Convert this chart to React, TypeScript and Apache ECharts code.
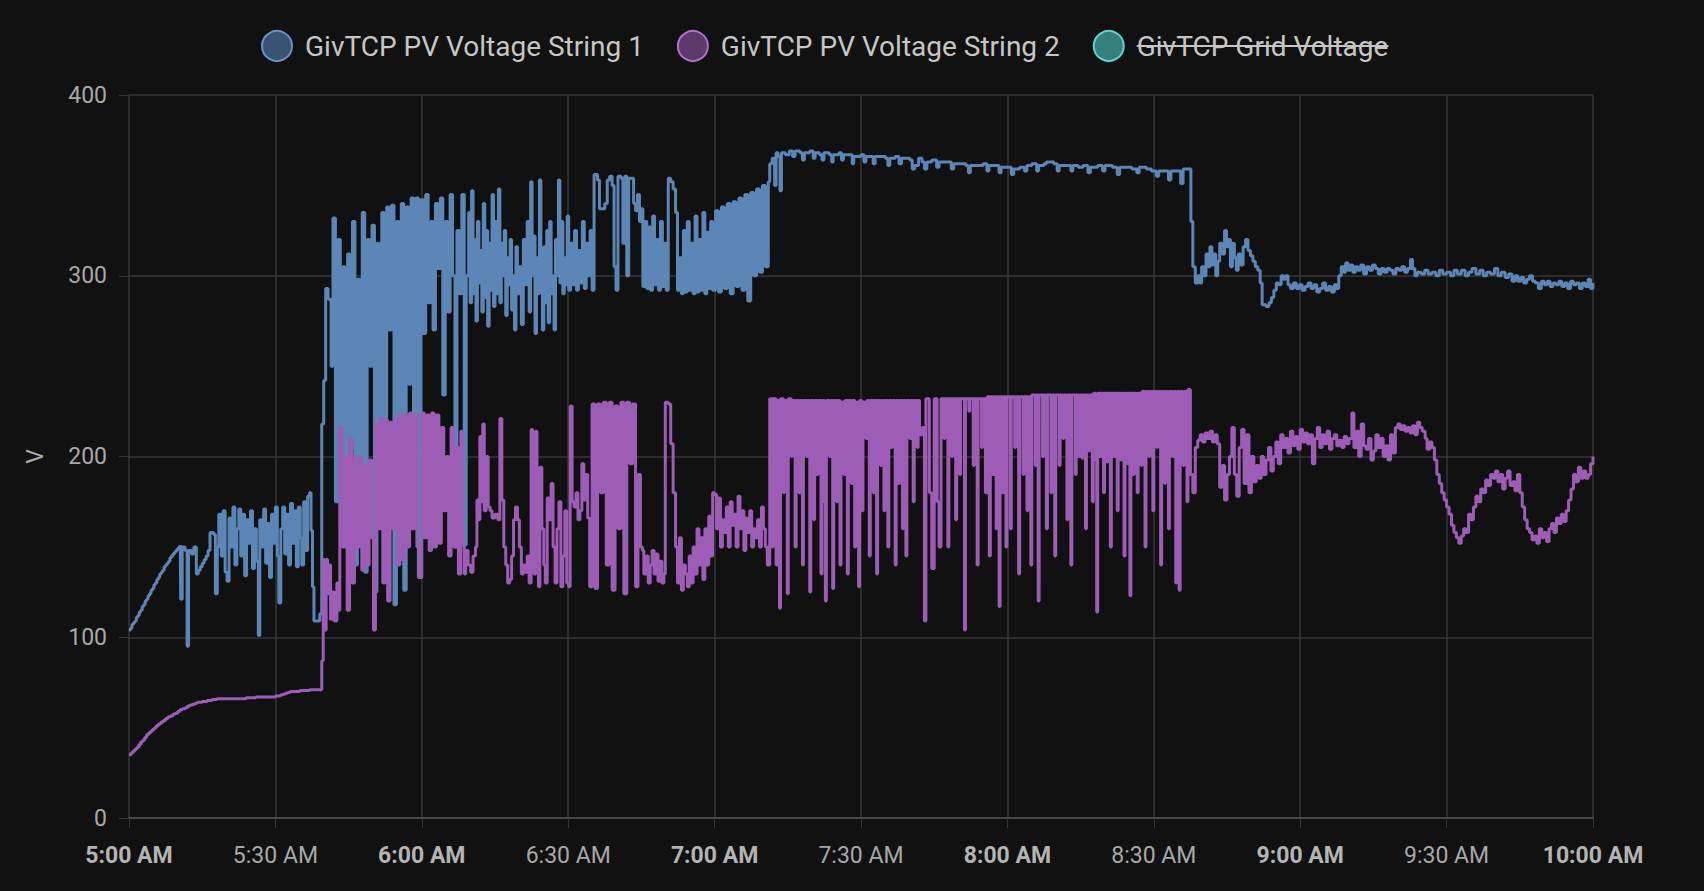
import React, { useEffect, useRef } from "react";
import * as echarts from "echarts";

// ---- data (minutes after 5:00 AM, volts) ----
const X_TICK_LABELS = ["5:00 AM", "5:30 AM", "6:00 AM", "6:30 AM", "7:00 AM", "7:30 AM", "8:00 AM", "8:30 AM", "9:00 AM", "9:30 AM", "10:00 AM"];
const Y_TICKS = [0, 100, 200, 300, 400];
const SERIES_NAMES = ["GivTCP PV Voltage String 1", "GivTCP PV Voltage String 2", "GivTCP Grid Voltage"];

const STRING1: [number, number][] = [
[0,104],[0.3,105],[0.6,107],[0.9,108],[1.2,109],[1.5,111],[1.8,112],[2.1,114],[2.4,115],[2.7,117],[3,118],[3.3,120],[3.6,121],[3.9,123],[4.2,124],[4.5,126],[4.8,127],[5.1,129],[5.4,130],[5.7,132],[6,133],[6.3,135],[6.6,136],[6.9,137],[7.2,139],[7.5,140],[7.8,141],[8.1,142],[8.4,144],[8.7,145],[9,146],[9.3,147],[9.6,148],[9.9,149],[10.2,150],[10.5,151],
[10.6,121],[10.9,150],[11.5,148],[11.9,95],[12.2,148],[12.8,146],[13.3,150],[13.8,135],[14.2,137],[14.6,139],[15,141],[15.4,143],[15.8,145],[16.2,148],[16.6,158],[17.3,157],[17.7,124],[18.1,150],[18.4,168],
[18.9,145],[19.3,170],[19.7,136],[20.1,131],[20.5,166],[20.9,150],[21.3,172],[21.7,140],[22.1,160],[22.5,171],[22.9,145],[23.3,168],[23.7,134],[24.1,165],[24.5,152],[24.9,170],[25.3,138],[25.7,160],[26.1,142],[26.5,101],[26.8,165],[27.2,150],[27.6,171],[28,141],[28.4,163],[28.8,133],[29.2,168],[29.6,152],[30,172],[30.4,145],[30.7,119],[31.1,160],[31.5,172],[31.9,146],[32.3,168],[32.7,140],[33.1,174],[33.5,152],[33.9,170],[34.3,139],[34.7,172],[35.1,155],[35.4,140],[35.8,175],[36.2,148],[36.6,178],[37,180],[37.3,159],[37.6,128],[37.9,109],[39.1,113],[39.5,218],[39.9,242],[40.3,293],[40.8,287],[41.4,250],
[41.8,332],[42.3,175],[42.8,320],[43.3,160],[43.8,305],[44.3,150],[44.8,312],[45.3,205],[45.8,330],[46.3,140],[46.8,298],[47.3,172],[47.8,335],[48.3,136],[48.8,320],[49.3,250],[49.8,328],[50.3,125],[50.8,318],[51.3,210],[51.8,335],[52.3,140],[52.8,338],[53.3,270],[53.8,339],[54.3,118],[54.8,330],[55.3,180],[55.8,340],[56.3,126],[56.8,338],[57.3,240],[57.8,343],[58.3,170],[58.8,343],[59.3,133],[59.8,342],[60.3,268],[60.8,345],[61.3,285],[61.8,330],[62.3,270],[62.8,340],[63.3,304],[63.8,343],[64.3,234],[64.8,330],[65.3,280],[65.8,345],[66.3,300],[66.8,150],[67.2,325],[67.7,290],[68.2,345],[68.7,151],[69.1,300],
[69.6,335],[69.9,285],[70.2,347],[70.5,290],[70.8,320],[71.1,275],[71.4,330],[71.7,296],[72,314],[72.3,280],[72.6,340],[72.9,288],[73.2,325],[73.5,272],[73.8,318],[74.1,292],[74.4,345],[74.7,283],[75,330],[75.3,290],[75.7,348],[76,285],[76.3,318],[76.6,300],[76.9,325],[77.2,278],[77.5,310],[77.8,295],[78.1,320],[78.4,281],[78.7,300],[79,270],[79.3,316],[79.6,290],[80,305],[80.4,273],[80.8,320],[81.2,295],[81.6,330],[82,280],[82.3,352],[82.6,300],[82.9,322],[83.2,268],[83.5,310],[83.8,290],[84.1,353],[84.4,300],[84.7,270],[85,316],[85.3,285],[85.6,325],[85.9,274],[86.2,330],[86.5,290],[86.8,300],[87.1,270],[87.4,320],[87.7,300],[88,353],[88.3,296],[88.6,330],[88.9,290],[89.2,310],[89.5,295],[89.8,333],[90.1,292],[90.5,318],[90.9,295],[91.3,325],[91.7,292],[92.1,314],[92.5,296],[92.9,330],[93.3,293],[93.7,318],[94.1,300],[94.5,325],[94.9,292],
[95.3,356],[96,353],[96.4,337],[97.5,340],[98,353],[98.5,355],[99,350],[99.4,305],[99.8,292],[100.2,355],[100.8,354],[101.2,318],[101.6,355],[102,300],[102.4,354],[103,354],[103.4,340],[103.8,336],[104.2,345],[104.6,330],[105,337],
[105.3,294],[105.7,330],[106.1,293],[106.5,327],[106.9,292],[107.3,333],[107.7,295],[108.1,320],[108.5,292],[108.9,330],[109.3,294],[109.7,318],[110.1,292],
[110.5,354],[111,352],[111.5,348],[112,335],
[112.4,292],[112.8,310],[113.2,290],[113.6,325],[114,291],[114.4,330],[114.8,292],[115.2,318],[115.6,290],[116,333],[116.4,291],[116.8,320],[117.2,292],[117.6,335],[118,290],[118.4,324],[118.8,293],[119.2,330],
[119.6,292],[120.2,336],[120.8,291],[121.4,338],[122,293],[122.6,340],[123.2,290],[123.8,341],[124.4,294],[125,343],[125.6,292],[126.2,345],[126.8,286],[127.4,346],[128,300],[128.6,348],[129.2,302],[129.8,350],[130.4,305],[131,352],
[131.3,362],[131.8,365],[132.3,350],[132.6,368],[133,366],[133.4,347],[133.7,368],[134.5,367],[135.3,369],[136,366],[136.5,369],[137.5,368],[138,364],[138.4,368],[139.5,369],[140.2,365],[140.6,368],[141.5,367],[142,364],[142.4,368],
[143.5,367],[144,363],[144.3,367],[145.5,368],[146,364],[146.4,367],[147.5,367],[148.2,362],[148.5,366],[150,367],[150.6,363],[151,366],[152,366],[152.5,362],[152.9,366],[154,366],[155,365],[155.5,361],[155.9,365],[157,366],[157.8,362],[158.3,365],[160,364],[160.5,359],[161,361],[161.8,365],[162.5,363],[163,359],[163.5,363],[164.5,364],[165.5,360],[166,363],[167.5,363],[168.5,359],[169,362],[170.5,362],[171.5,361],[172,357],[172.4,361],[174,361],[175,362],[175.8,358],[176.2,361],[177.5,361],[178.3,357],[178.7,360],[180,360],[180.8,356],[181.3,359],[182.5,360],[183.5,358],[184,361],[185,362],[186,358],[186.4,361],[187.5,362],[188,363],[189.5,362],[190.2,358],[190.6,361],[192,361],[193,358],[193.4,361],[194.5,360],[195.5,361],[196.5,357],[197,360],[198.5,361],[199.5,358],[200,361],[201.5,360],[202.5,356],[203,360],[204.5,360],[205.5,359],[206.5,357],[207,360],[208.5,359],[209.5,358],[210.5,355],[211,358],[212.5,358],[213,353],[213.5,358],[215,358],[215.5,351],[216,359],[217,359],
[217.6,330],[218,305],[218.5,296],[219,300],[219.4,296],[219.8,305],[220.3,300],[220.7,312],[221.1,305],[221.5,316],[221.9,306],[222.3,312],[222.7,300],[223.1,308],[223.5,318],[224,312],[224.5,325],[224.9,316],[225.3,320],[225.7,305],[226.1,318],[226.5,310],[226.9,303],[227.3,312],[227.8,306],[228.3,316],[228.8,320],[229.3,314],[229.8,311],[230.3,308],[230.8,305],[231.3,303],[231.8,296],[232.2,284],[233,283],[233.6,285],[234.1,288],[234.6,292],[235.1,296],[235.6,295],[236.1,300],[236.6,298],[237,300],[237.5,295],[238,293],[238.6,296],[239.2,293],[239.8,295],[240.4,292],[241,294],[241.6,296],[242.2,293],[242.8,295],[243.4,291],[244,293],[244.6,296],[245.2,292],[245.8,294],[246.4,291],[247,295],[247.5,293],[247.9,300],[248.4,305],[248.9,302],[249.3,307],[249.8,303],[250.3,306],[250.8,302],[251.3,305],[251.8,303],[252.4,306],[253,301],[253.6,305],[254.2,303],[254.8,306],[255.4,304],[256,301],[256.6,304],[257.2,302],[257.8,304],[258.4,303],[259,301],[259.6,304],[260.2,303],[260.8,305],[261.4,302],[262,304],[262.6,309],[263,304],[263.5,300],[264,302],[264.8,301],[265.5,303],[266.2,301],[267,302],[267.8,300],[268.5,303],[269.2,301],[270,302],[270.8,300],[271.5,303],[272.2,301],[273,303],[273.8,300],[274.5,302],[275.2,304],[276,301],[276.8,303],[277.5,300],[278.2,302],[279,301],[279.8,304],[280.5,300],[281.2,302],[282,299],[282.7,301],[283.4,297],[284,300],[284.6,297],[285.2,299],[285.8,296],[286.4,298],[287,300],[287.6,297],[288.2,296],[288.8,293],[289.4,297],[290,295],[290.6,297],[291.2,294],[291.8,296],[292.4,295],[293,297],[293.6,294],[294.2,296],[294.8,293],[295.4,297],[296,295],[296.6,296],[297.2,293],[297.8,296],[298.4,294],[299,298],[299.5,293],[300,296]
];

const STRING2: [number, number][] = [
[0,35],[0.4,36],[0.8,37],[1.2,38],[1.6,39],[2,40.5],[2.4,42],[2.8,43],[3.2,44.5],[3.6,46],[4,47],[4.4,48],[4.8,49],[5.2,50],[5.6,51],[6,52],[6.5,53],[7,54],[7.5,55],[8,56],[8.5,56.5],[9,57.5],[9.5,58],[10,59],[10.5,60],[11,60.5],[11.5,61],[12,62],[12.5,62.5],[13,63],[13.5,63.5],[14,64],[15,64.5],[16,65],[17,65.5],[18,66],[20,66],[22,66],[24,66.5],[26,67],[28,67],[30,67.5],[31,68],[31.5,68.5],[32,69],[32.5,69.5],[33,70],[35,70.5],[37,71],[39.3,71],
[39.5,87],[39.8,143],[40.1,104],[40.4,143],[40.7,124],[41,140],[41.3,110],[41.7,125],[42.1,109],[42.6,130],[43,115],
[43.2,216],[43.7,150],[44.2,200],[44.7,115],[45.2,210],[45.7,130],[46.2,199],[46.7,150],[47.2,200],[47.7,137],[48.2,195],[48.7,140],[49.2,198],[49.7,155],[50.1,104],[50.5,218],[51,160],[51.5,221],[52,130],[52.5,220],[53,120],[53.5,219],[54,160],[54.5,221],[55,140],[55.5,223],[56,143],[56.5,223],[57,150],[57.5,224],[58,160],[58.5,223],[59,150],[59.5,133],[60,224],[60.5,155],[61,223],[61.5,148],[62,224],[62.5,150],[63,223],[63.5,152],[64,216],[64.5,170],[65,200],[65.5,145],[66,216],[66.5,150],[67,205],[67.5,135],[68,214],[68.4,151],[68.7,135],
[69,148],[69.5,140],[70,136],[70.5,145],[71,150],[71.3,176],[71.6,165],[71.9,211],[72.2,175],[72.5,218],[72.8,170],[73.2,200],[73.6,172],[74,170],[74.4,166],[75,168],[75.6,165],[76,221],[76.4,176],[76.8,150],[77.2,140],[77.6,130],[78,132],[78.4,145],[78.8,165],[79.2,172],[79.6,165],[80,150],[80.4,135],[80.8,140],[81.2,136],[81.6,145],[82,130],[82.4,215],[82.7,150],[83,135],[83.3,214],[83.6,140],[83.9,128],[84.2,194],[84.6,160],[85,140],[85.3,130],[85.7,177],[86.1,165],[86.5,185],[86.9,150],[87.3,130],[87.7,160],[88.1,175],[88.5,128],[88.9,145],[89.3,170],[89.7,130],[90.1,128],[90.4,228],[90.8,175],[91.2,172],[91.6,180],[92,165],[92.4,170],[92.8,196],[93.2,176],[93.6,190],[94,166],[94.4,128],
[94.9,229],[95.5,127],[96,229],[96.6,180],[97.2,230],[97.8,140],[98.4,230],[99,126],[99.6,228],[100.2,160],[100.8,230],[101.4,124],[102,230],[102.6,196],[103.2,229],[103.8,128],[104.3,190],[104.8,150],[105.2,148],
[105.5,135],[106,145],[106.4,130],[106.8,140],[107.2,148],[107.6,135],[108,146],[108.4,131],[108.8,142],[109.2,130],[109.6,135],[109.9,230],[110.5,229],[111,207],[111.5,180],[112,150],[112.4,130],[112.8,155],[113.2,126],[113.6,140],[114,135],[114.4,128],[114.8,145],[115.2,130],[115.6,150],[116,135],[116.4,160],[116.8,140],[117.2,155],[117.6,132],[118,160],[118.4,140],[118.8,167],[119.2,145],[119.6,180],
[120,179],[120.4,160],[120.8,177],[121.2,150],[121.6,165],[122,158],[122.4,172],[122.8,150],[123.2,175],[123.6,162],[124,168],[124.4,150],[124.8,178],[125.2,160],[125.6,170],[126,148],[126.4,166],[126.8,158],[127.2,170],[127.6,150],[128,160],[128.4,155],[128.8,165],[129.2,150],[129.6,172],[130,160],[130.4,150],[130.8,140],
[131.3,232],[131.8,150],[132,232],[132.6,140],[132.8,231],[133.3,116],[133.5,232],[134.1,180],[134.3,231],[134.9,124],[135.1,232],[135.7,200],[135.9,231],[136.5,150],[136.7,231],[137.3,180],[137.5,231],[138,140],[138.2,231],[138.8,200],[139,231],[139.5,125],[139.7,231],[140.3,165],[140.5,231],[141,190],[141.2,231],[141.8,135],[142,231],[142.5,175],[142.7,120],[142.9,231],[143.5,200],[143.7,231],[144.2,127],[144.4,231],[145,175],[145.2,231],[145.7,140],[145.9,230],[146.5,190],[146.7,231],[147.2,135],[147.4,231],[148,185],[148.2,231],[148.7,150],[148.9,230],[149.5,128],[149.7,231],[150.2,170],[150.4,230],[151,210],[151.2,231],[151.7,145],[151.9,231],[152.5,180],[152.7,231],[153.2,135],[153.4,231],[154,195],[154.2,231],[154.7,170],[154.9,231],[155.5,150],[155.7,231],[156.2,205],[156.4,231],[157,140],[157.2,231],[157.7,185],[157.9,231],[158.5,160],[158.7,231],[159.2,145],[159.4,231],[160,210],[160.2,231],[160.7,175],[160.9,231],[161.5,205],[161.7,231],
[162,212],[162.5,216],[163,109],[163.3,232],[164,180],[164.5,138],[165,232],[165.6,175],[166,150],[166.4,232],[167,210],[167.2,232],[167.8,150],[168,232],[168.6,200],[168.8,232],[169.4,165],[169.6,232],[170.2,190],[170.4,232],[171.2,104],[171.4,232],[172.1,225],[172.3,232],[173,195],[173.2,232],[173.8,140],[174,232],[174.7,205],[174.9,232],[175.5,180],
[175.9,233],[176.3,145],[176.5,233],[177,190],[177.2,233],[177.7,160],[177.9,233],[178.3,117],[178.5,233],[179,180],[179.2,233],[179.7,150],[179.9,233],
[180.6,160],[180.8,233],[181.5,205],[181.7,233],[182.3,135],[182.5,233],[183.2,190],[183.4,233],[184,170],[184.2,233],[184.8,140],[185,234],[185.7,195],[185.9,234],[186.3,120],[186.5,234],[187.2,200],[187.4,234],[188,160],[188.2,234],[188.9,180],[189.1,234],[189.7,145],[189.9,234],[190.6,195],[190.8,234],[191.4,210],[191.6,234],[192.2,165],[192.4,234],[193,140],[193.2,234],[193.9,190],[194.1,234],
[194.6,200],[194.8,234],[195.3,199],[195.5,234],[196,160],[196.2,234],[196.7,203],[196.9,234],[197.4,175],[197.6,235],[198.1,198],[198.3,114],[198.5,235],[199,200],[199.2,235],[199.7,180],[199.9,235],[200.4,197],[200.6,235],[201.1,150],[201.3,235],[201.8,200],[202,235],[202.5,170],[202.7,235],[203.2,198],[203.4,235],[203.9,145],[204.1,235],[204.6,196],[204.8,235],[205.1,123],[205.3,235],[205.8,190],[206,235],
[206.6,180],[206.8,235],[207.4,195],[207.6,236],[208.2,150],[208.4,236],[209,200],[209.2,236],[209.8,170],[210,236],[210.6,205],[210.8,236],[211.4,140],[211.6,236],[212.2,185],[212.4,236],[213,160],[213.2,236],[213.8,200],[214,236],[214.5,130],[214.7,236],[215.2,126],[215.4,236],[216,195],[216.2,236],[216.8,175],[217,237],[217.5,190],
[218,180],[218.5,205],[219,209],[219.5,212],[220,208],[220.5,213],[221,210],[221.5,214],[222,208],[222.5,212],[223,207],[223.5,183],[224,195],[224.5,176],[225,190],[225.5,200],[226,216],[226.5,190],[227,178],[227.5,205],[228,215],[228.5,185],[229,212],[229.5,180],[230,200],[230.5,186],[231,195],[231.5,188],[232,200],[232.5,190],[233,198],[233.5,205],[234,192],[234.5,200],[235,208],[235.5,196],[236,212],[236.5,205],[237,210],[237.5,202],[238,214],[238.5,206],[239,211],[239.5,204],[240,215],[240.5,208],[241,213],[241.5,207],[242,212],[242.5,196],[243,210],[243.5,216],[244,205],[244.5,212],[245,207],[245.5,214],[246,204],[246.5,210],[247,212],[247.5,206],[248,209],[248.5,205],[249,211],[249.5,207],[250,210],[250.6,224],[251,205],[251.5,214],[252,200],[252.5,218],[253,206],[253.5,204],[254,210],[254.5,198],[255,203],[255.5,212],[256,205],[256.5,210],[257,200],[257.5,206],[258,198],[258.5,212],[259,202],[259.5,216],[260,218],[260.5,215],[261,217],[261.5,214],[262,216],[262.5,213],[263,217],[263.5,212],[264,219],[264.5,216],[265,214],[265.6,210],[266,204],[266.5,208],[267,205],[267.5,198],[268,190],[268.5,185],[269,180],[269.5,176],[270,172],[270.5,168],[271,162],[271.5,158],[272,155],[272.5,152],[273,156],[273.5,160],[274,158],[274.5,168],[275,165],[275.5,172],[276,178],[276.5,175],[277,182],[277.5,180],[278,187],[278.5,184],[279,190],[279.5,188],[280,192],[280.5,186],[281,190],[281.5,182],[282,188],[282.5,192],[283,184],[283.5,186],[284,181],[284.5,190],[285,180],[285.5,172],[286,165],[286.5,160],[287,158],[287.5,154],[288,156],[288.5,152],[289,160],[289.5,155],[290,158],[290.5,153],[291,160],[291.5,163],[292,158],[292.5,166],[293,163],[293.5,168],[294,164],[294.5,170],[295,176],[295.5,182],[296,190],[296.5,186],[297,194],[297.5,188],[298,192],[298.5,188],[299,190],[299.5,196],[300,200]
];

const GRID_VOLTAGE: [number, number][] = []; // hidden in the reference

// ---- styles ----
const COLORS = ["#5b86b6", "#9d5cb5", "#3ec1b8"];
const LEGEND_FILL = ["#3a5273", "#5c3a6c", "#357f7c"];
const LEGEND_BORDER = ["#6a92c4", "#b070cc", "#62d4cc"];
const FONT = "Roboto, 'Noto Sans', sans-serif";
const LEGEND_FONT_SIZE = 28;
const LEGEND_TEXT_COLOR = "#c6c6c6";

export default function App() {
  const ref = useRef<HTMLDivElement>(null);
  useEffect(() => {
    document.body.style.margin = "0";
    document.body.style.background = "#111111";
    if (!ref.current) return;
    const chart = echarts.init(ref.current, undefined, { renderer: "svg" });

    const axisLabelColor = "#a8a8a8";
    const gridColor = "#363636";

    chart.setOption({
      animation: false,
      backgroundColor: "#111111",
      textStyle: { fontFamily: FONT },
      legend: {
        left: 256,
        top: 25,
        icon: "circle",
        itemWidth: 30,
        itemHeight: 30,
        itemGap: 33,
        selectedMode: false,
        textStyle: { color: LEGEND_TEXT_COLOR, fontSize: LEGEND_FONT_SIZE, fontFamily: FONT, padding: [0, 0, 0, 8] },
        data: SERIES_NAMES.map((n, i) => ({
          name: n,
          itemStyle: { color: LEGEND_FILL[i], borderColor: LEGEND_BORDER[i], borderWidth: 2 },
        })),
      },
      grid: { left: 129, right: 111, top: 95, bottom: 73 },
      xAxis: {
        type: "value",
        min: 0,
        max: 300,
        interval: 30,
        axisLine: { show: true, lineStyle: { color: "#474747", width: 2 } },
        axisTick: { show: true, length: 10, lineStyle: { color: gridColor } },
        splitLine: { show: true, lineStyle: { color: gridColor, width: 1.5 } },
        axisLabel: {
          color: axisLabelColor,
          fontSize: 23,
          fontFamily: FONT,
          margin: 26,
          formatter: (v: number) => {
            const idx = Math.round(v / 30);
            const s = X_TICK_LABELS[idx] ?? "";
            return idx % 2 === 0 ? `{b|${s}}` : s;
          },
          rich: {
            b: { fontWeight: "bold", fontSize: 23, color: "#b4b4b4", fontFamily: FONT },
          },
        },
      },
      yAxis: {
        type: "value",
        min: Y_TICKS[0],
        max: Y_TICKS[Y_TICKS.length - 1],
        interval: 100,
        name: "V",
        nameLocation: "middle",
        nameGap: 82,
        nameTextStyle: { color: axisLabelColor, fontSize: 23, fontFamily: FONT },
        axisLine: { show: false },
        axisTick: { show: true, length: 10, lineStyle: { color: gridColor } },
        splitLine: { show: true, lineStyle: { color: gridColor, width: 1.5 } },
        axisLabel: { color: axisLabelColor, fontSize: 23, fontFamily: FONT, margin: 22 },
      },
      series: [
        { name: SERIES_NAMES[0], data: STRING1, color: COLORS[0] },
        { name: SERIES_NAMES[1], data: STRING2, color: COLORS[1] },
        { name: SERIES_NAMES[2], data: GRID_VOLTAGE, color: COLORS[2] },
      ].map((s) => ({
        ...s,
        type: "line",
        step: "end",
        showSymbol: false,
        symbol: "none",
        lineStyle: { width: 3, color: s.color },
        itemStyle: { color: s.color },
        silent: true,
      })),
    });

    // strike-through over the hidden legend entry, placed from the rendered text
    const root = ref.current;
    const texts = Array.from(root.querySelectorAll("text"));
    const t = texts.find((el) => (el.textContent || "").trim() === SERIES_NAMES[2]);
    if (t) {
      const r = t.getBoundingClientRect();
      const c = root.getBoundingClientRect();
      const x1 = r.left - c.left;
      const x2 = r.right - c.left;
      const y = r.top - c.top + r.height * 0.5;
      chart.setOption({
        graphic: [
          {
            type: "line",
            silent: true,
            shape: { x1, y1: y, x2, y2: y },
            style: { stroke: LEGEND_TEXT_COLOR, lineWidth: 2 },
            z: 100,
          },
        ],
      });
    }
    return () => chart.dispose();
  }, []);
  return <div ref={ref} style={{ position: "fixed", left: 0, top: 0, width: 1704, height: 891 }} />;
}
